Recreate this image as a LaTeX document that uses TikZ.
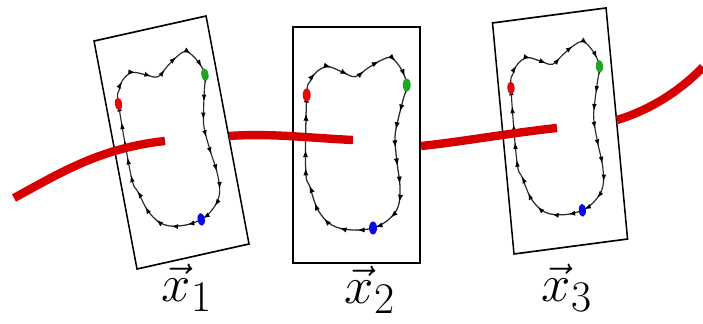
\documentclass[tikz,border=0pt]{standalone}
\usepackage{amsmath}
\usepackage{xcolor}
\usepackage{tikz}
\usetikzlibrary{arrows.meta, decorations.markings}
\definecolor{trajred}{HTML}{D60000}
\definecolor{dotred}{HTML}{E00A0A}
\definecolor{dotgreen}{HTML}{1FA51F}
\definecolor{dotblue}{HTML}{0A0AE6}
\definecolor{loopgray}{HTML}{2A2A2A}
\tikzset{
  plane/.style  = {draw=black, line width=1.2pt},
  traj/.style   = {draw=trajred, line width=0.21cm},
  orbit/.style  = {draw=loopgray, line width=0.9pt,
                   postaction={decorate},
                   decoration={markings,
                     mark=between positions 0.02 and 0.99 step 0.038
                     with {\arrow[black]{Latex[length=1.8mm,width=1.3mm]}}}},
  dotmark/.style= {x radius=4, y radius=6.5},
  lbl/.style    = {font=\Huge, scale=1.5, transform shape, inner sep=0pt},
}
% closed orbit, in the units of the upright plane (127 x 236)
\newcommand{\orbitpath}{plot[smooth cycle, tension=0.6] coordinates {
  (13.7,168) (17,181.3) (23.7,191.3) (35,196.3) (48.7,191.3) (62,186.3)
  (75,195) (88.7,203) (98.7,205) (108.7,193) (113.7,178) (110,163)
  (105,143) (102,126) (103.7,103) (107,76) (105,56) (95,43) (80,35)
  (58.7,33) (38.7,38) (25,53) (17,76) (12.7,93)}}

\begin{document}
\begin{tikzpicture}[x=0.025cm, y=0.025cm]
  \useasboundingbox (0,0) rectangle (703,323);

  % PLANE 1 (tilted)
  \begin{scope}[transform canvas={cm={0.882,0.197,-0.182,0.966,(137,54)}}]
    \draw[plane] (0,0) rectangle (127,236);
    \draw[orbit] \orbitpath;
    \fill[dotred]   (13.7,168) ellipse [dotmark];
    \fill[dotgreen] (113.7,178) ellipse [dotmark];
    \fill[dotblue]  (80,35) ellipse [dotmark];
  \end{scope}

  % PLANE 2 (upright)
  \begin{scope}[transform canvas={shift={(293,60)}}]
    \draw[plane] (0,0) rectangle (127,236);
    \draw[orbit] \orbitpath;
    \fill[dotred]   (13.7,168) ellipse [dotmark];
    \fill[dotgreen] (113.7,178) ellipse [dotmark];
    \fill[dotblue]  (80,35) ellipse [dotmark];
  \end{scope}

  % PLANE 3 (slightly tilted)
  \begin{scope}[transform canvas={cm={0.894,0.118,-0.091,0.979,(514,69)}}]
    \draw[plane] (0,0) rectangle (127,236);
    \draw[orbit] \orbitpath;
    \fill[dotred]   (13.7,168) ellipse [dotmark];
    \fill[dotgreen] (113.7,178) ellipse [dotmark];
    \fill[dotblue]  (80,35) ellipse [dotmark];
  \end{scope}

  % trajectory, hidden behind each plane
  \draw[traj] (14,125) .. controls (60,150) and (100,175) .. (165,182);
  \draw[traj] (229,187) .. controls (270,190) and (310,185) .. (353,183);
  \draw[traj] (421,177) .. controls (460,181) and (510,190) .. (557,195);
  \draw[traj] (617,203) .. controls (650,213) and (680,232) .. (703,256);

  % labels
  \node[lbl] (lx1) at (187,35) {$\vec{x}_1$};
  \node[lbl] (lx2) at (370,33) {$\vec{x}_2$};
  \node[lbl] (lx3) at (567,35) {$\vec{x}_3$};

\end{tikzpicture}
\end{document}
